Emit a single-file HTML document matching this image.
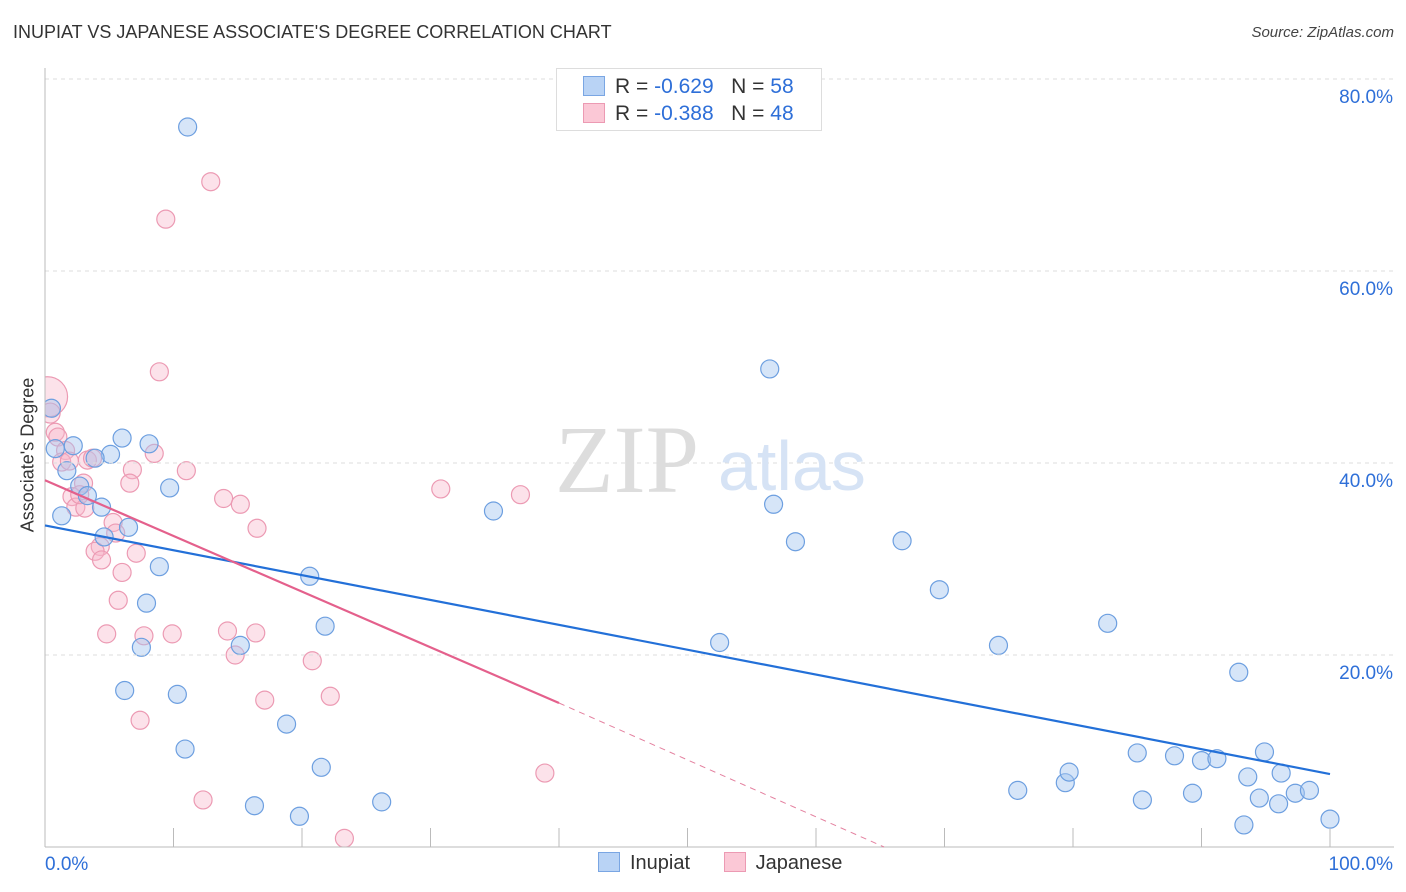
<!DOCTYPE html>
<html><head><meta charset="utf-8">
<style>
body{margin:0;background:#fff;font-family:"Liberation Sans",sans-serif;}
#wrap{position:relative;width:1406px;height:892px;overflow:hidden;}
.t{position:absolute;white-space:nowrap;}
</style></head><body>
<div id="wrap">
<div class="t" style="left:13px;top:22px;font-size:18px;color:#333;">INUPIAT VS JAPANESE ASSOCIATE'S DEGREE CORRELATION CHART</div>
<div class="t" style="right:12px;top:24px;font-size:15px;color:#444;font-style:italic;">Source: ZipAtlas.com</div>
<div class="t" style="left:28px;top:455px;font-size:18px;color:#333;transform:translate(-50%,-50%) rotate(-90deg);">Associate's Degree</div>
<svg id="plot" width="1406" height="892" style="position:absolute;left:0;top:0;"><defs><clipPath id="clip"><rect x="45" y="60" width="1360" height="787"/></clipPath></defs><g id="pts" clip-path="url(#clip)"></g></svg>
<div style="position:absolute;left:556px;top:68px;width:264px;height:61px;border:1px solid #ddd;background:#fff;">
 <div style="position:absolute;left:26px;top:6px;font-size:21px;color:#333;"><span style="display:inline-block;width:20px;height:18px;background:#b9d3f5;border:1px solid #7aa6e3;vertical-align:-3px;margin-right:10px;"></span>R = <span style="color:#2e6fd8">-0.629</span>&nbsp;&nbsp;&nbsp;N = <span style="color:#2e6fd8">58</span></div>
 <div style="position:absolute;left:26px;top:33px;font-size:21px;color:#333;"><span style="display:inline-block;width:20px;height:18px;background:#fbc8d6;border:1px solid #ec9ab3;vertical-align:-3px;margin-right:10px;"></span>R = <span style="color:#2e6fd8">-0.388</span>&nbsp;&nbsp;&nbsp;N = <span style="color:#2e6fd8">48</span></div>
</div>
<div style="position:absolute;left:598px;top:852px;font-size:20px;color:#333;">
 <span><span style="display:inline-block;width:20px;height:18px;background:#b9d3f5;border:1px solid #7aa6e3;vertical-align:-3px;margin-right:10px;"></span>Inupiat</span>
 <span style="margin-left:28px;"><span style="display:inline-block;width:20px;height:18px;background:#fbc8d6;border:1px solid #ec9ab3;vertical-align:-3px;margin-right:10px;"></span>Japanese</span>
</div>
</div>
<script>
const yTicks=[20,40,60,80];
const yTickLabels=["20.0%","40.0%","60.0%","80.0%"];
const xEndLabels=["0.0%","100.0%"];
const inupiatX=[11.1,56.4,0.5,6.0,8.1,2.2,0.8,5.1,3.9,1.7,2.7,3.3,4.4,1.3,9.7,6.5,4.6,8.9,7.9,7.5,6.2,10.3,10.9,15.2,18.8,20.6,21.8,21.5,16.3,19.8,26.2,34.9,52.5,56.7,58.4,66.7,69.6,74.2,82.7,92.9,75.7,79.4,79.7,85.0,85.4,87.9,89.3,90.0,91.2,93.6,93.3,94.5,94.9,96.0,96.2,97.3,98.4,100.0];
const inupiatY=[75.0,49.8,45.7,42.6,42.0,41.8,41.5,40.9,40.5,39.2,37.6,36.6,35.4,34.5,37.4,33.3,32.3,29.2,25.4,20.8,16.3,15.9,10.2,21.0,12.8,28.2,23.0,8.3,4.3,3.2,4.7,35.0,21.3,35.7,31.8,31.9,26.8,21.0,23.3,18.2,5.9,6.7,7.8,9.8,4.9,9.5,5.6,9.0,9.2,7.3,2.3,5.1,9.9,4.5,7.7,5.6,5.9,2.9];
const japaneseX=[0.2,0.4,0.8,1.0,1.6,1.3,1.9,3.3,3.7,3.0,2.1,2.4,3.1,2.7,5.3,5.5,6.8,6.6,8.5,8.9,9.4,12.9,11.0,13.9,15.2,16.5,4.3,3.9,4.4,6.0,7.1,5.7,4.8,7.7,9.9,14.2,16.4,14.8,20.8,17.1,22.2,7.4,12.3,23.3,30.8,37.0,38.9];
const japaneseY=[46.9,45.2,43.2,42.7,41.3,40.1,40.2,40.3,40.5,37.9,36.5,35.4,35.3,36.7,33.8,32.7,39.3,37.9,41.0,49.5,65.4,69.3,39.2,36.3,35.7,33.2,31.3,30.8,29.9,28.6,30.6,25.7,22.2,22.0,22.2,22.5,22.3,20.0,19.4,15.3,15.7,13.2,4.9,0.9,37.3,36.7,7.7];
const japaneseR=[20,10,9,9,9,9,9,9,9,9,9,9,9,9,9,9,9,9,9,9,9,9,9,9,9,9,9,9,9,9,9,9,9,9,9,9,9,9,9,9,9,9,9,9,9,9,9];
const blueTrendX=[0,100], blueTrendY=[33.5,7.6];
const pinkTrendX=[0,40], pinkTrendY=[38.2,15.0];
const pinkDashX=[40,65.3], pinkDashY=[15.0,0];

const X=v=>45+v*12.85, Y=v=>847-v*9.6;
const svg=document.getElementById('plot');
const pts=document.getElementById('pts');
const NS='http://www.w3.org/2000/svg';
function mk(tag,attrs,parent){const e=document.createElementNS(NS,tag);for(const k in attrs)e.setAttribute(k,attrs[k]);(parent||svg).appendChild(e);return e;}
yTicks.forEach((t,i)=>{
 const g=mk('line',{x1:45,x2:1394,y1:Y(t),y2:Y(t),stroke:'#ddd','stroke-dasharray':'4,4'});
 
 
 const tx=mk('text',{x:1393,y:Y(t)+24,'text-anchor':'end','font-size':19,fill:'#2e6fd8','font-family':'Liberation Sans'});
 tx.textContent=yTickLabels[i];
 
 
});
const ax=mk('line',{x1:45,x2:45,y1:68,y2:847,stroke:'#bbb'});


const bx=mk('line',{x1:45,x2:1394,y1:847,y2:847,stroke:'#bbb'});


for(let i=1;i<=10;i++){const tk=mk('line',{x1:X(i*10),x2:X(i*10),y1:828,y2:847,stroke:'#bbb'});
 
 }
const xl0=mk('text',{x:45,y:870,'font-size':19,fill:'#2e6fd8','font-family':'Liberation Sans'});xl0.textContent=xEndLabels[0];


const xl1=mk('text',{x:1393,y:870,'text-anchor':'end','font-size':19,fill:'#2e6fd8','font-family':'Liberation Sans'});xl1.textContent=xEndLabels[1];


const wm=mk('text',{x:555,y:492,'font-size':96,fill:'#ddd','font-family':'Liberation Serif'});wm.textContent='ZIP';


const wm2=mk('text',{x:718,y:490,'font-size':70,fill:'#d6e3f5','font-family':'Liberation Sans'});wm2.textContent='atlas';


japaneseX.forEach((v,i)=>{const c=mk('circle',{cx:X(v),cy:Y(japaneseY[i]),r:japaneseR[i],fill:'rgba(248,182,202,0.4)',stroke:'#ec9ab3','stroke-width':1.2},pts);
 
 });
inupiatX.forEach((v,i)=>{const c=mk('circle',{cx:X(v),cy:Y(inupiatY[i]),r:9,fill:'rgba(164,198,240,0.45)',stroke:'#6d9fe0','stroke-width':1.2},pts);
 
 });
const bl=mk('line',{x1:X(blueTrendX[0]),y1:Y(blueTrendY[0]),x2:X(blueTrendX[1]),y2:Y(blueTrendY[1]),stroke:'#2370d8','stroke-width':2.2});


const pl=mk('line',{x1:X(pinkTrendX[0]),y1:Y(pinkTrendY[0]),x2:X(pinkTrendX[1]),y2:Y(pinkTrendY[1]),stroke:'#e4608c','stroke-width':2.2});


const pd=mk('line',{x1:X(pinkDashX[0]),y1:Y(pinkDashY[0]),x2:X(pinkDashX[1]),y2:Y(pinkDashY[1]),stroke:'#e4809f','stroke-width':1,'stroke-dasharray':'6,5'});


</script>
</body></html>
